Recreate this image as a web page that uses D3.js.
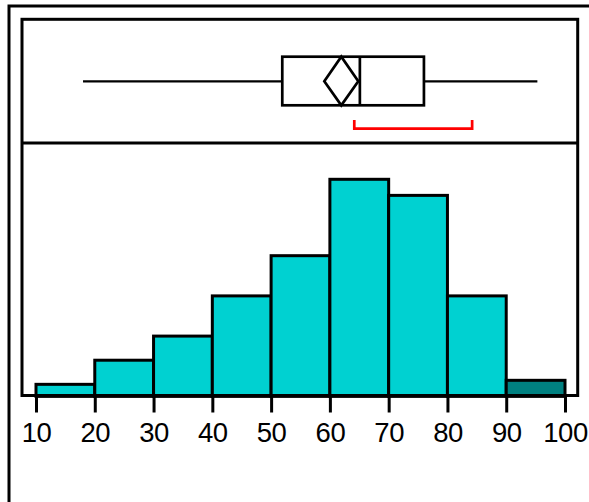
<!DOCTYPE html>
<html>
<head>
<meta charset="utf-8">
<script src="https://cdn.jsdelivr.net/npm/d3@7"></script>
<style>
  html, body { margin: 0; padding: 0; background: #fff; }
  svg { display: block; }
</style>
</head>
<body>
<script>
// ---- data ----
const binEdges = [10, 20, 30, 40, 50, 60, 70, 80, 90, 100];
const counts = [3, 9, 15, 25, 35, 54, 50, 25, 4];
const tickValues = [10, 20, 30, 40, 50, 60, 70, 80, 90, 100];
// whisker min, Q1, median, Q3, whisker max
const quantiles = [18.0, 51.9, 65.1, 76.0, 95.3];
// lower CI, mean, upper CI
const meanDiamond = [59.05, 61.94, 64.83];
// shortest half bracket
const shortestHalf = [64.15, 84.2];

// ---- layout ----
const W = 589, H = 502;
const frame = { left: 22, top: 19.3, right: 577.7, bottom: 395.5 };
const dividerY = 143;
const boxTop = 56.7, boxBottom = 105.3, boxMid = 81.3;
const bracketTop = 120, bracketY = 128.7;

const svg = d3.select("body").append("svg")
  .attr("width", W).attr("height", H);

const x = d3.scaleLinear().domain([10, 100]).range([36, 565]);
const y = d3.scaleLinear().domain([0, 54]).range([396.4, 179.3]);

const cyan = "#00D1D1", teal = "#008080";

// outer frame
svg.append("path")
  .attr("d", `M9,${H} V6 H${W}`)
  .attr("fill", "none").attr("stroke", "#000").attr("stroke-width", 3);

// histogram bars
const bins = counts.map((c, i) => ({ x0: binEdges[i], x1: binEdges[i + 1], c, i }));
svg.append("g").selectAll("rect").data(bins).join("rect")
  .attr("x", d => x(d.x0))
  .attr("y", d => y(d.c))
  .attr("width", d => x(d.x1) - x(d.x0))
  .attr("height", d => y(0) - y(d.c))
  .attr("fill", d => d.i === counts.length - 1 ? teal : cyan)
  .attr("stroke", "#000").attr("stroke-width", 3);

// inner frame
svg.append("rect")
  .attr("x", frame.left).attr("y", frame.top)
  .attr("width", frame.right - frame.left).attr("height", frame.bottom - frame.top)
  .attr("fill", "none").attr("stroke", "#000").attr("stroke-width", 3);
svg.append("line")
  .attr("x1", frame.left).attr("x2", frame.right)
  .attr("y1", dividerY).attr("y2", dividerY)
  .attr("stroke", "#000").attr("stroke-width", 3);

// x axis
const axis = d3.axisBottom(x).tickValues(tickValues).tickSize(17).tickPadding(10)
  .tickFormat(d3.format("d"));
const ax = svg.append("g").attr("transform", `translate(0,${frame.bottom})`).call(axis);
ax.select(".domain").remove();
ax.selectAll(".tick line").attr("stroke", "#000").attr("stroke-width", 3);
ax.selectAll(".tick text")
  .attr("fill", "#000")
  .style("font-family", "'Liberation Sans', Arial, sans-serif")
  .style("font-size", "27.5px")
  .style("letter-spacing", "-0.5px");

// box plot
const [qmin, q1, med, q3, qmax] = quantiles;
const bp = svg.append("g").attr("stroke", "#000").attr("fill", "none");
bp.append("line").attr("x1", x(qmin)).attr("x2", x(q1)).attr("y1", boxMid).attr("y2", boxMid)
  .attr("stroke-width", 2.2);
bp.append("line").attr("x1", x(q3)).attr("x2", x(qmax)).attr("y1", boxMid).attr("y2", boxMid)
  .attr("stroke-width", 2.2);
bp.append("rect").attr("x", x(q1)).attr("y", boxTop)
  .attr("width", x(q3) - x(q1)).attr("height", boxBottom - boxTop).attr("fill", "#fff")
  .attr("stroke-width", 2.7);
bp.append("line").attr("x1", x(med)).attr("x2", x(med)).attr("y1", boxTop).attr("y2", boxBottom)
  .attr("stroke-width", 2.7);
const [ciLo, mean, ciHi] = meanDiamond;
bp.append("path")
  .attr("d", `M${x(ciLo)},${boxMid} L${x(mean)},${boxTop} L${x(ciHi)},${boxMid} L${x(mean)},${boxBottom} Z`)
  .attr("stroke-width", 2.7);

// shortest half bracket
svg.append("path")
  .attr("d", `M${x(shortestHalf[0])},${bracketTop} V${bracketY} H${x(shortestHalf[1])} V${bracketTop}`)
  .attr("fill", "none").attr("stroke", "#ff0000").attr("stroke-width", 2.7);
</script>
</body>
</html>
